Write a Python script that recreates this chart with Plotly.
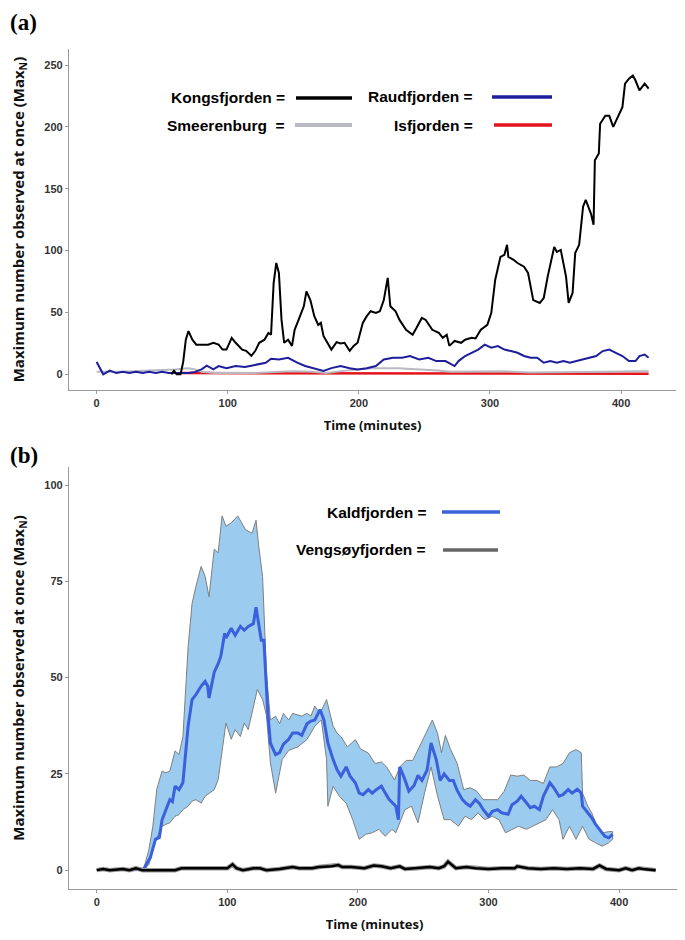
import plotly.graph_objects as go

# ---------------- Panel (a) data ----------------
kongs_t = [57, 59, 61, 64, 66, 68, 70, 73, 76, 80, 85, 89, 93, 96, 99, 103, 106, 111, 114,
           118, 121, 124, 128, 131, 133, 135, 137, 139, 141, 143, 146, 149, 151, 154, 158, 160, 163, 166, 169,
           171, 173, 176, 179, 183, 186, 189, 193, 196, 199, 203, 206, 209, 213, 216, 219, 222, 224, 228, 231,
           236, 241, 244, 248, 251, 256, 261, 264, 267, 269, 273, 278, 281, 286, 289, 293, 298, 301, 304, 308,
           311, 313, 314, 318, 321, 326, 329, 333, 338, 341, 344, 349, 351, 354, 358, 360, 363, 365, 368, 371,
           373, 377, 379, 380, 383, 384, 388, 391, 394, 398, 401, 403, 406, 409, 411, 414, 418, 421]
kongs_v = [0, 3, 0, 0, 10, 28, 35, 28, 24, 24, 24, 25.5, 24, 20, 20, 29.5, 25.5, 20, 19,
           15, 19, 25.5, 28, 33.5, 32, 74, 90, 82, 44, 25.5, 28, 23, 36, 44, 55, 67, 60, 47, 40,
           41.6, 31, 25.5, 20, 26, 25, 25.5, 19, 23, 25.5, 41.6, 47, 51, 49.7, 51, 60, 78, 55, 51, 44,
           36, 32, 37.6, 45.6, 44, 36, 33.5, 29.5, 32, 23, 27, 25.5, 28, 29.5, 29, 36, 40, 49.7, 76.5, 95,
           96.6, 104.7, 95, 92.6, 90, 87, 82, 60, 57.7, 61.7, 79, 103, 99, 100.6, 79, 57.7, 65.8, 98, 104.7, 135.5,
           141, 130, 121, 173, 178.5, 202.6, 209, 209, 200, 209, 216, 235, 239, 241.5, 237.5, 229.5, 235, 231]

raud_t = [0, 3, 5, 10, 15, 20, 25, 30, 35, 40, 45, 50, 55, 60, 65, 70, 75, 80, 84, 89,
          93, 99, 106, 113, 118, 123, 129, 133, 139, 146, 150, 153, 159, 166, 170, 173, 179, 186, 193, 199,
          206, 213, 219, 226, 233, 239, 246, 253, 259, 266, 273, 276, 281, 286, 291, 296, 301, 306, 311, 316,
          321, 326, 331, 336, 341, 346, 351, 356, 361, 366, 371, 376, 381, 386, 391, 396, 401, 406, 411, 414,
          418, 421]
raud_v = [10, 4, 0, 3, 1, 2, 1, 2, 1, 2, 1, 2, 1, 1, 1, 1, 2, 4, 7, 4,
          6.7, 5, 6.7, 6, 7, 8, 9.4, 12.6, 12, 13.4, 11, 9.4, 6.7, 5, 4, 2.7, 5, 6.7, 5, 4,
          5, 6.7, 12, 13.4, 13.4, 14.8, 12, 13.4, 10.7, 10.7, 6.7, 10.7, 14.8, 17.4, 20, 24, 21.5, 22.8, 20, 18.8,
          17.4, 14.8, 13.4, 13.4, 9.4, 10.7, 9.4, 10.7, 9.4, 10.7, 12, 13.4, 14.8, 18.8, 20, 17.4, 14.8, 10.7, 10.7, 14.8,
          16, 13.4]

smeer_t = [0, 20, 40, 55, 60, 65, 70, 75, 80, 90, 100, 120, 140, 150, 165, 175, 190, 200, 210, 230,
           250, 260, 270, 290, 310, 330, 350, 370, 390, 410, 421]
smeer_v = [2, 2, 3, 3.5, 4, 4.5, 5, 4, 2, 1, 1, 1, 2, 2.5, 2, 1, 3, 4, 5, 5,
           4, 3, 2, 2, 2.5, 1.5, 1.5, 2, 2, 2.5, 2.5]

isf_t = [65, 100, 130, 160, 200, 220, 260, 300, 340, 380, 400, 410, 421]
isf_v = [1, 1, 0.5, 1, 0.5, 1, 1, 1, 0.5, 0.5, 0.5, 1, 0.5]

# ---------------- Panel (b) data ----------------
kald_mean_t = [23, 36, 41, 45, 48, 50, 53, 56, 58, 60, 63, 66, 70, 73, 76, 80, 83, 85, 86, 90,
               93, 95, 98, 99, 103, 106, 110, 113, 116, 120, 122, 123, 126, 128, 131, 133, 137, 140, 143, 147,
               150, 154, 157, 161, 164, 167, 171, 174, 177, 181, 184, 187, 191, 194, 198, 201, 204, 208, 211, 214,
               218, 221, 224, 229, 231, 232, 236, 239, 243, 246, 249, 253, 256, 260, 263, 266, 270, 273, 276, 280,
               283, 286, 290, 293, 296, 300, 303, 307, 310, 315, 318, 322, 325, 329, 332, 335, 339, 342, 347, 350,
               354, 357, 361, 364, 368, 371, 372, 376, 379, 382, 386, 389, 392, 395]
kald_mean_v = [0, 0.3, 3.2, 8, 8.5, 13, 15.7, 18.3, 17.8, 21.8, 20.9, 22.7, 37.4, 44.3, 45.6, 47.8, 49, 47.8, 44.7, 51.4,
               53.6, 55.5, 61.5, 60.3, 62.8, 61, 63.3, 62.3, 63.3, 64, 68.3, 65.9, 59.7, 59.7, 40.8, 33, 30, 30.5, 32.7, 34,
               35.6, 35.6, 35, 38, 38.7, 39, 41.7, 39, 33, 28.7, 26.1, 24.4, 26.8, 24.4, 22.7, 20, 19.6, 20.9, 20, 20.9,
               21.8, 20, 18.3, 16.6, 13.1, 26.8, 23.5, 20.5, 22, 24.6, 23.3, 26, 33, 28.7, 23.3, 25, 23.3, 23.3, 20.7, 18.3,
               17.3, 16.6, 18.3, 17.3, 15.7, 14, 15.3, 15.7, 14.9, 14.5, 17, 17.9, 19.2, 17.5, 16.2, 16.6, 15.7, 19.2, 22.7, 21.4,
               19.2, 19.6, 20.9, 20, 21, 20, 16.6, 14.9, 13.6, 11.9, 10.1, 8.8, 8.4, 9.3]

kald_upper_t = [36, 40, 43, 46, 50, 53, 56, 60, 63, 66, 70, 73, 76, 80, 83, 86, 90, 93, 96, 99,
                103, 108, 111, 114, 119, 122, 124, 127, 130, 133, 137, 140, 143, 147, 150, 157, 161, 164, 167, 171,
                176, 181, 184, 187, 192, 198, 202, 208, 213, 218, 222, 228, 232, 237, 242, 247, 252, 257, 261, 264,
                267, 271, 276, 281, 286, 291, 296, 301, 307, 312, 317, 322, 327, 332, 337, 342, 347, 352, 357, 362,
                367, 371, 372, 376, 379, 382, 386, 389, 392, 395]
kald_upper_v = [0.3, 5.4, 11.4, 21, 25.7, 25.3, 25.7, 31, 30, 34.6, 58, 69.2, 73.7, 78.9, 76.3, 71, 83.4, 82.4, 92, 89.3,
                90.2, 92, 90.2, 88.4, 87.5, 90.9, 84.3, 76.3, 51.2, 39, 40, 38, 40.7, 39, 40.7, 40, 40.7, 40, 42.6, 40.7,
                44.3, 37.4, 35.6, 34.7, 32, 33.9, 31.5, 30.4, 27.7, 28.1, 26.8, 23.4, 26.8, 28.5, 28.5, 32, 35.5, 39, 35.5, 30.5,
                35, 31.3, 27.7, 20.9, 21.4, 20.5, 18.3, 18.3, 18.3, 20.5, 24.7, 24.4, 24.7, 23.3, 23.3, 22.5, 26.8, 26.8, 27.7, 30.5,
                31.3, 30.5, 20, 16.6, 14.9, 12.3, 9.7, 9.8, 10, 10]

kald_lower_t = [36, 40, 43, 46, 50, 53, 56, 60, 63, 66, 70, 73, 76, 80, 83, 86, 90, 93, 96, 99,
                103, 106, 110, 113, 116, 120, 123, 127, 130, 133, 137, 142, 147, 154, 161, 167, 172, 176, 177, 181,
                186, 191, 196, 201, 206, 211, 216, 221, 226, 229, 236, 241, 246, 251, 256, 261, 266, 271, 277, 282,
                287, 292, 297, 303, 308, 313, 318, 323, 329, 334, 339, 344, 349, 354, 357, 362, 367, 372, 377, 382,
                387, 392, 395]
kald_lower_v = [0, 1.5, 5.4, 8.4, 11.4, 11.9, 12.3, 14, 14.4, 15.7, 16.6, 17.9, 18.3, 17.4, 19.2, 20, 20.9, 23.5, 31.3, 38.2,
                34, 36.5, 34.7, 38.2, 36.5, 42.6, 46.9, 44.3, 40.2, 27.9, 20, 28.7, 31.1, 32, 33.9, 37.4, 39, 28.7, 16.6, 21.8,
                19.1, 17.4, 13.1, 8, 9.3, 9.7, 10.6, 8.8, 10.6, 9.7, 15.7, 16.6, 12.3, 20, 26.8, 19.2, 13.1, 13.1, 11.4, 14,
                13.1, 14.9, 13.1, 14, 13.1, 9.7, 10.6, 11.4, 10.6, 11.4, 12.3, 13.1, 15.7, 13.1, 8, 11.4, 8, 11.4, 8, 7.1,
                6.2, 7.1, 8]

veng_t = [0, 5, 10, 20, 25, 30, 35, 60, 65, 70, 100, 104, 107, 112, 120, 125, 130, 140, 150, 155,
          165, 170, 180, 185, 188, 195, 205, 212, 218, 225, 232, 236, 245, 255, 262, 266, 269, 275, 283, 290,
          300, 310, 320, 322, 330, 340, 350, 360, 370, 380, 385, 390, 400, 405, 410, 415, 420, 428]
veng_v = [0, 0.3, 0, 0.3, 0, 0.5, 0, 0, 0.5, 0.5, 0.5, 1.5, 0.5, 0, 0.5, 0.5, 0, 0.3, 0.8, 0.5,
          0.5, 0.8, 1.0, 1.3, 0.8, 0.8, 0.5, 1.2, 1.0, 0.5, 1.0, 0.3, 0.5, 0.8, 0.5, 1.0, 2.2, 0.5, 0.8, 0.5,
          0.3, 0.5, 0.5, 1.0, 0.5, 0.3, 0.5, 0.3, 0.5, 0.3, 1.2, 0.3, 0, 0.5, 0, 0.5, 0.2, 0]

x_ticks = [0, 100, 200, 300, 400]
a_y_ticks = [0, 50, 100, 150, 200, 250]
b_y_ticks = [0, 25, 50, 75, 100]

C_KONGS = "#000000"
C_RAUD = "#1e1e9c"
C_SMEER = "#b9b9c2"
C_ISF = "#e3141b"
C_KALD = "#3a60dc"
C_FILL = "rgba(155,203,238,1)"
C_VENG = "#666666"

fig = go.Figure()

# Panel (a)
fig.add_trace(go.Scatter(x=isf_t, y=isf_v, mode="lines", line=dict(color=C_ISF, width=2.5),
                         xaxis="x", yaxis="y", name="Isfjorden"))
fig.add_trace(go.Scatter(x=smeer_t, y=smeer_v, mode="lines", line=dict(color=C_SMEER, width=2),
                         xaxis="x", yaxis="y", name="Smeerenburg"))
fig.add_trace(go.Scatter(x=raud_t, y=raud_v, mode="lines", line=dict(color=C_RAUD, width=2),
                         xaxis="x", yaxis="y", name="Raudfjorden"))
fig.add_trace(go.Scatter(x=kongs_t, y=kongs_v, mode="lines", line=dict(color=C_KONGS, width=2),
                         xaxis="x", yaxis="y", name="Kongsfjorden"))

# Panel (b)
fig.add_trace(go.Scatter(x=kald_upper_t + kald_lower_t[::-1], y=kald_upper_v + kald_lower_v[::-1],
                         mode="lines", fill="toself", fillcolor=C_FILL,
                         line=dict(color="#7f7f7f", width=1),
                         xaxis="x2", yaxis="y2", name="Kaldfjorden range"))
fig.add_trace(go.Scatter(x=kald_mean_t, y=kald_mean_v, mode="lines", line=dict(color=C_KALD, width=3),
                         xaxis="x2", yaxis="y2", name="Kaldfjorden"))
fig.add_trace(go.Scatter(x=veng_t, y=veng_v, mode="lines", line=dict(color="#999999", width=4.5),
                         xaxis="x2", yaxis="y2", name="Vengsøyfjorden range", hoverinfo="skip"))
fig.add_trace(go.Scatter(x=veng_t, y=veng_v, mode="lines", line=dict(color="#000000", width=2.5),
                         xaxis="x2", yaxis="y2", name="Vengsøyfjorden"))

tick_font = dict(family="Liberation Sans, Arial, sans-serif", size=11, color="#333333", weight="bold")
title_font = dict(family="Open Sans, sans-serif", size=15, color="#111111")
xtitle_font = dict(family="Open Sans, sans-serif", size=13, color="#111111")
ytitle = "<b>Maximum number observed at once (Max<sub>N</sub>)</b>"

axis_common = dict(showgrid=False, zeroline=False, showline=True, linecolor="#9a9a9a", linewidth=1.3,
                   ticks="outside", ticklen=3, tickcolor="#9a9a9a", tickfont=tick_font, automargin=False)

# The page body adds an 8px offset, so the figure is sized 8px smaller on each side.
fig.update_layout(
    width=677, height=932,
    margin=dict(l=61, r=5, t=41, b=51),
    paper_bgcolor="white", plot_bgcolor="white",
    showlegend=False,
    xaxis=dict(domain=[0, 0.9935], range=[-21.1, 441.9], tickvals=x_ticks, anchor="y",
               title=dict(text="<b>Time (minutes)</b>", font=xtitle_font, standoff=12), **axis_common),
    yaxis=dict(domain=[0.594, 1.0], range=[-12.7, 263], tickvals=a_y_ticks, anchor="x",
               title=dict(text=ytitle, font=title_font, standoff=19), **axis_common),
    xaxis2=dict(domain=[0, 1], range=[-21.2, 446.6], tickvals=x_ticks, anchor="y2",
                title=dict(text="<b>Time (minutes)</b>", font=xtitle_font, standoff=12), **axis_common),
    yaxis2=dict(domain=[0, 0.5024], range=[-4.9, 104.7], tickvals=b_y_ticks, anchor="x2",
                title=dict(text=ytitle, font=title_font, standoff=19), **axis_common),
)

leg_font = dict(family="Liberation Sans, Arial, sans-serif", size=15.5, color="#000000")

def legend_entry(text, xr, y, x0, x1, color, width):
    fig.add_annotation(xref="paper", yref="paper", x=xr, y=y, text="<b>" + text + "</b>",
                       showarrow=False, xanchor="right", yanchor="middle", font=leg_font)
    fig.add_shape(type="line", xref="paper", yref="paper", x0=x0, x1=x1, y0=y, y1=y,
                  line=dict(color=color, width=width))

legend_entry("Kongsfjorden =", 0.3568, 0.9417, 0.3715, 0.4632, C_KONGS, 3.5)
legend_entry("Raudfjorden =", 0.6645, 0.9429, 0.6923, 0.7905, C_RAUD, 3.5)
legend_entry("Smeerenburg&nbsp; =", 0.3568, 0.9095, 0.3699, 0.4632, C_SMEER, 4)
legend_entry("Isfjorden =", 0.6645, 0.9095, 0.6956, 0.7905, C_ISF, 3.5)
legend_entry("Kaldfjorden =", 0.5876, 0.4488, 0.6105, 0.7054, C_KALD, 3.5)
legend_entry("Vengsøyfjorden =", 0.5876, 0.4036, 0.6121, 0.7021, C_VENG, 3.5)

panel_font = dict(family="Liberation Serif, Times New Roman, serif", size=23, color="#000000")
fig.add_annotation(xref="paper", yref="paper", x=-0.0998, y=1.0488, text="<b>(a)</b>", showarrow=False,
                   xanchor="left", yanchor="top", font=panel_font)
fig.add_annotation(xref="paper", yref="paper", x=-0.0998, y=0.5155, text="<b>(b)</b>", showarrow=False,
                   xanchor="left", yanchor="middle", font=panel_font)

fig.write_html("out.html")
